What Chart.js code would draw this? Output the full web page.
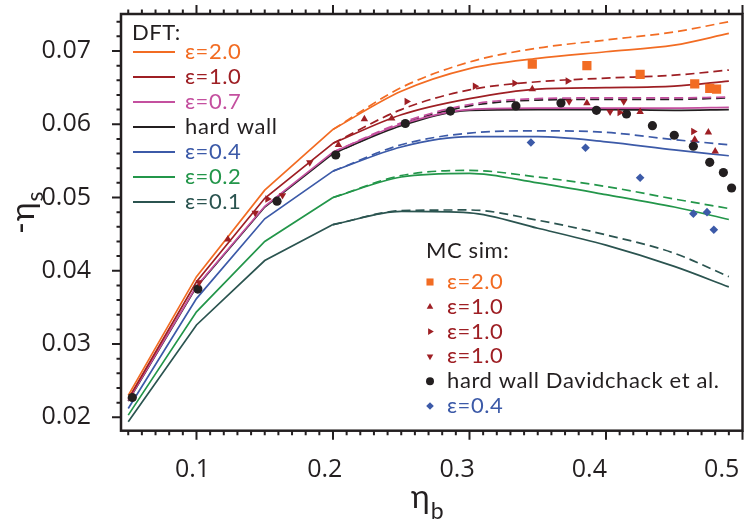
<!DOCTYPE html>
<html lang="en">
<head>
<meta charset="UTF-8">
<title>Surface packing fraction</title>
<script src="https://cdn.jsdelivr.net/npm/chart.js"></script>
<style>
  html, body { margin: 0; padding: 0; background: #fff; }
  .chart-container { position: relative; width: 749px; height: 527px; }
</style>
</head>
<body>
<div class="chart-container"><canvas id="myChart"></canvas></div>
<script>
// bulk packing fractions of the DFT runs
const etaDft = [0.05, 0.1, 0.15, 0.2, 0.25, 0.3, 0.35, 0.4, 0.45, 0.49];
// DFT, solid curves
const dftEps20 = [0.0230, 0.0392, 0.0510, 0.0593, 0.0645, 0.0676, 0.0690, 0.0699, 0.0708, 0.0724];
const dftEps10 = [0.0225, 0.0385, 0.0499, 0.0574, 0.0613, 0.0635, 0.0648, 0.0650, 0.0652, 0.0659];
const dftEps07 = [0.0223, 0.0379, 0.0488, 0.0562, 0.0600, 0.0620, 0.0622, 0.0622, 0.0622, 0.0623];
const dftHard  = [0.0222, 0.0378, 0.0487, 0.0560, 0.0598, 0.0619, 0.0620, 0.0620, 0.0619, 0.0620];
const dftEps04 = [0.0212, 0.0362, 0.0471, 0.0536, 0.0569, 0.0583, 0.0583, 0.0576, 0.0565, 0.0557];
const dftEps02 = [0.0203, 0.0344, 0.0440, 0.0500, 0.0528, 0.0533, 0.0520, 0.0504, 0.0487, 0.0470];
const dftEps01 = [0.0194, 0.0326, 0.0414, 0.0463, 0.0481, 0.0479, 0.0458, 0.0435, 0.0406, 0.0378];

// DFT, dashed curves (they only split off above 0.2)
const etaDash = [0.2, 0.25, 0.3, 0.35, 0.4, 0.45, 0.49];
const dashEps20 = [0.0593, 0.0650, 0.0685, 0.0704, 0.0715, 0.0726, 0.0740];
const dashEps10 = [0.0574, 0.0620, 0.0647, 0.0658, 0.0663, 0.0667, 0.0674];
const dashEps07 = [0.0562, 0.0602, 0.0627, 0.0635, 0.0636, 0.0636, 0.0637];
const dashHard  = [0.0560, 0.0600, 0.0625, 0.0633, 0.0634, 0.0634, 0.0636];
const dashEps04 = [0.0536, 0.0572, 0.0588, 0.0591, 0.0589, 0.0579, 0.0572];
const dashEps02 = [0.0500, 0.0530, 0.0537, 0.0528, 0.0515, 0.0498, 0.0485];
const dashEps01 = [0.0463, 0.0482, 0.0483, 0.0469, 0.0449, 0.0424, 0.0392];

// MC simulations
const mcEps20Eta = [0.346, 0.386, 0.425, 0.465, 0.476, 0.481];
const mcEps20Val = [0.0682, 0.0680, 0.0668, 0.0655, 0.0649, 0.0648];
const mcUpEta = [0.123, 0.204, 0.223, 0.243, 0.346, 0.386, 0.425, 0.465, 0.475, 0.480];
const mcUpVal = [0.0443, 0.0572, 0.0607, 0.0608, 0.0648, 0.0629, 0.0617, 0.0579, 0.0589, 0.0563];
const mcRightEta = [0.152, 0.254, 0.304, 0.333, 0.372, 0.410, 0.464];
const mcRightVal = [0.0498, 0.0631, 0.0652, 0.0656, 0.0659, 0.0616, 0.0590];
const mcDownEta = [0.102, 0.143, 0.163, 0.183, 0.373, 0.403, 0.413];
const mcDownVal = [0.0384, 0.0479, 0.0503, 0.0548, 0.0631, 0.0617, 0.0631];
const mcHardEta = [0.053, 0.101, 0.159, 0.202, 0.253, 0.286, 0.334, 0.367, 0.393, 0.415, 0.434, 0.450, 0.464, 0.476, 0.486, 0.492];
const mcHardVal = [0.0227, 0.0375, 0.0495, 0.0558, 0.0601, 0.0618, 0.0625, 0.0629, 0.0619, 0.0614, 0.0598, 0.0585, 0.0570, 0.0548, 0.0534, 0.0513];
const mcEps04Eta = [0.345, 0.385, 0.425, 0.464, 0.474, 0.479];
const mcEps04Val = [0.0575, 0.0568, 0.0527, 0.0478, 0.0480, 0.0456];

// axis ticks
const xTickValues = [0.1, 0.2, 0.3, 0.4, 0.5];
const xTickLabels = ['0.1', '0.2', '0.3', '0.4', '0.5'];
const yTickValues = [0.02, 0.03, 0.04, 0.05, 0.06, 0.07];
const yTickLabels = ['0.02', '0.03', '0.04', '0.05', '0.06', '0.07'];

const ink = '#231f20';
const orange = '#f26c23';
const red = '#9e1f24';
const magenta = '#c4509f';
const blue = '#3c5aa8';
const green = '#23964a';
const slate = '#2b5450';
const textFont = 'Lato, "Noto Sans", sans-serif';
const numFont = '"Open Sans", "Noto Sans", sans-serif';

const dftCurves = [
    { solid: dftEps20, dash: dashEps20, color: orange, label: 'ε=2.0' },
    { solid: dftEps10, dash: dashEps10, color: red, label: 'ε=1.0' },
    { solid: dftEps07, dash: dashEps07, color: magenta, label: 'ε=0.7' },
    { solid: dftHard, dash: dashHard, color: ink, label: 'hard wall' },
    { solid: dftEps04, dash: dashEps04, color: blue, label: 'ε=0.4' },
    { solid: dftEps02, dash: dashEps02, color: green, label: 'ε=0.2' },
    { solid: dftEps01, dash: dashEps01, color: slate, label: 'ε=0.1' }
];

const mcSets = [
    { eta: mcEps20Eta, val: mcEps20Val, color: orange, style: 'rect', rot: 0, r: 6.5, lr: 5, label: 'ε=2.0' },
    { eta: mcUpEta, val: mcUpVal, color: red, style: 'triangle', rot: 0, r: 4.3, lr: 3.8, label: 'ε=1.0' },
    { eta: mcRightEta, val: mcRightVal, color: red, style: 'triangle', rot: 90, r: 4.3, lr: 3.8, label: 'ε=1.0' },
    { eta: mcDownEta, val: mcDownVal, color: red, style: 'triangle', rot: 180, r: 4.3, lr: 3.8, label: 'ε=1.0' },
    { eta: mcHardEta, val: mcHardVal, color: ink, style: 'circle', rot: 0, r: 4.6, lr: 4, label: 'hard wall Davidchack et al.' },
    { eta: mcEps04Eta, val: mcEps04Val, color: blue, style: 'rectRot', rot: 0, r: 4.3, lr: 3.8, label: 'ε=0.4' }
];

const pts = (xs, ys) => xs.map((x, i) => ({ x: x, y: ys[i] }));

const datasets = [];
// markers first so they sit on top of the curves
mcSets.forEach(s => {
    datasets.push({
        data: pts(s.eta, s.val),
        showLine: false,
        pointStyle: s.style,
        rotation: s.rot,
        pointRadius: s.r,
        backgroundColor: s.color,
        borderColor: s.color,
        borderWidth: 0
    });
});
dftCurves.forEach(c => {
    // straight pieces up to 0.2, smooth above
    datasets.push({
        data: pts(etaDft.slice(0, 4), c.solid.slice(0, 4)),
        showLine: true, pointRadius: 0, borderColor: c.color, borderWidth: 1.7
    });
    datasets.push({
        data: pts(etaDft.slice(3), c.solid.slice(3)),
        showLine: true, pointRadius: 0, borderColor: c.color, borderWidth: 1.7,
        cubicInterpolationMode: 'monotone'
    });
    datasets.push({
        data: pts(etaDash, c.dash),
        showLine: true, pointRadius: 0, borderColor: c.color, borderWidth: 1.7,
        borderDash: [9, 5], cubicInterpolationMode: 'monotone'
    });
});

// frame, tick marks, x labels, axis titles and both legends
const decorations = {
    id: 'decorations',
    afterDraw(chart) {
        const { ctx, chartArea: a, scales: { x, y } } = chart;
        ctx.save();
        ctx.strokeStyle = ink;
        ctx.lineWidth = 2.5;
        ctx.strokeRect(a.left, a.top, a.right - a.left, a.bottom - a.top);

        ctx.lineWidth = 2;
        ctx.beginPath();
        for (let k = 5; k <= 50; k++) {
            const px = x.getPixelForValue(k / 100);
            const len = k % 10 === 0 ? 9 : 4.5;
            ctx.moveTo(px, a.bottom); ctx.lineTo(px, a.bottom + len);
            ctx.moveTo(px, a.top); ctx.lineTo(px, a.top - len);
        }
        for (let k = 10; k <= 37; k++) {
            const py = y.getPixelForValue(k * 0.002);
            const len = k % 5 === 0 ? 9 : 4.5;
            ctx.moveTo(a.left, py); ctx.lineTo(a.left - len, py);
        }
        ctx.stroke();

        // x tick labels sit a little left of their ticks, more so towards the right
        ctx.fillStyle = ink;
        ctx.font = '25px ' + numFont;
        ctx.textAlign = 'center';
        ctx.textBaseline = 'alphabetic';
        xTickValues.forEach((v, i) => {
            const px = x.getPixelForValue(v) - 4 - (v - 0.1) * 42;
            ctx.fillText(xTickLabels[i], px, 477);
        });

        // axis titles
        ctx.textAlign = 'left';
        ctx.font = '32px ' + textFont;
        const etaW = ctx.measureText('η').width;
        ctx.fillText('η', 411, 508);
        ctx.font = '23px ' + textFont;
        ctx.fillText('b', 412 + etaW, 519);

        ctx.save();
        ctx.translate(34, 234);
        ctx.rotate(-Math.PI / 2);
        ctx.font = '32px ' + textFont;
        const dashW = ctx.measureText('-').width;
        ctx.fillText('-', 0, -2);
        ctx.fillText('η', dashW + 1, 0);
        const w2 = ctx.measureText('η').width;
        ctx.font = '23px ' + textFont;
        ctx.fillText('s', dashW + w2 + 2, 9);
        ctx.restore();

        // DFT legend
        ctx.font = '22px ' + textFont;
        ctx.letterSpacing = '0.6px';
        ctx.textBaseline = 'middle';
        ctx.fillStyle = ink;
        ctx.fillText('DFT:', 132, 33);
        dftCurves.forEach((c, i) => {
            const ly = 52 + i * 25;
            ctx.strokeStyle = c.color;
            ctx.lineWidth = 2;
            ctx.beginPath();
            ctx.moveTo(133, ly); ctx.lineTo(175, ly);
            ctx.stroke();
            ctx.fillStyle = c.color;
            ctx.fillText(c.label, 185, ly);
        });

        // MC legend
        ctx.fillStyle = ink;
        ctx.fillText('MC sim:', 426, 251);
        mcSets.forEach((s, i) => {
            const ly = 282 + i * 24.8;
            ctx.fillStyle = s.color;
            Chart.helpers.drawPoint(ctx, { pointStyle: s.style, rotation: s.rot, radius: s.lr, borderWidth: 0 }, 430, ly);
            ctx.fillStyle = s.color;
            ctx.fillText(s.label, 447, ly);
        });
        ctx.restore();
    }
};

new Chart(document.getElementById('myChart'), {
    type: 'scatter',
    data: { datasets: datasets },
    options: {
        responsive: true,
        maintainAspectRatio: false,
        animation: false,
        events: [],
        layout: { padding: { top: 14, right: 2.5, left: 0, bottom: 0 } },
        plugins: { legend: { display: false }, tooltip: { enabled: false } },
        scales: {
            x: {
                type: 'linear',
                min: 0.0447,
                max: 0.5,
                grid: { display: false, drawTicks: false },
                border: { display: false },
                ticks: { display: false },
                afterBuildTicks: s => { s.ticks = xTickValues.map(v => ({ value: v })); },
                afterFit: s => { s.height = 96.3; s.paddingLeft = 0; s.paddingRight = 0; }
            },
            y: {
                type: 'linear',
                min: 0.01817,
                max: 0.07505,
                grid: { display: false, drawTicks: false },
                border: { display: false },
                ticks: {
                    color: ink,
                    font: { family: numFont, size: 25 },
                    padding: 30,
                    autoSkip: false,
                    callback: (v, i) => yTickLabels[i]
                },
                afterBuildTicks: s => { s.ticks = yTickValues.map(v => ({ value: v })); },
                afterFit: s => { s.width = 121; s.paddingTop = 0; s.paddingBottom = 0; }
            }
        }
    },
    plugins: [decorations]
});
</script>
</body>
</html>
